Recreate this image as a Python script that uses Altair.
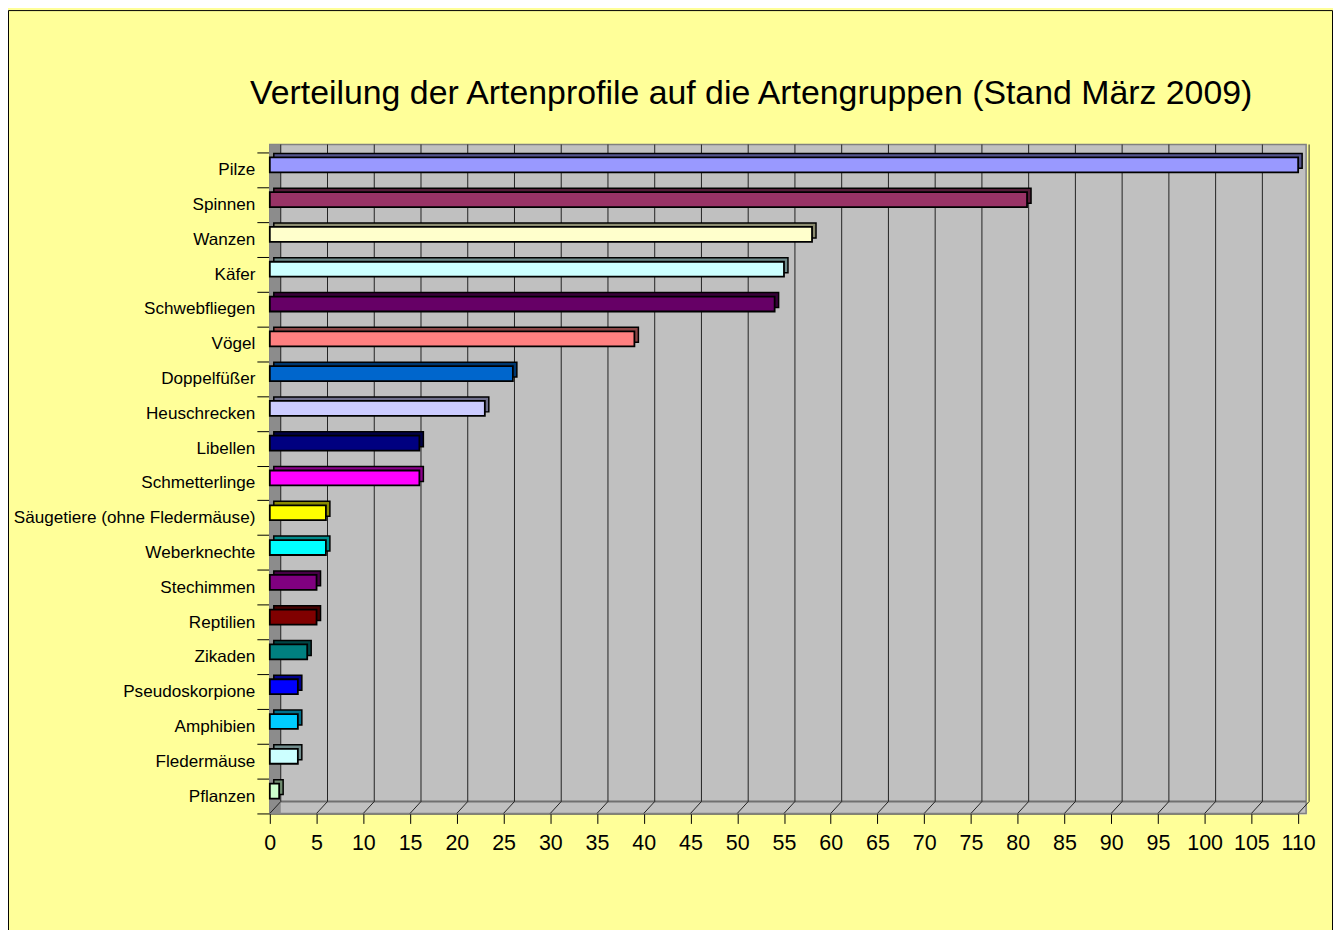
import altair as alt
import pandas as pd

CATEGORIES = ["Pilze", "Spinnen", "Wanzen", "Käfer", "Schwebfliegen", "Vögel",
              "Doppelfüßer", "Heuschrecken", "Libellen", "Schmetterlinge",
              "Säugetiere (ohne Fledermäuse)", "Weberknechte", "Stechimmen",
              "Reptilien", "Zikaden", "Pseudoskorpione", "Amphibien",
              "Fledermäuse", "Pflanzen"]
VALUES = [110, 81, 58, 55, 54, 39, 26, 23, 16, 16, 6, 6, 5, 5, 4, 3, 3, 3, 1]
COLORS = ["#9999FF", "#993366", "#FFFFCC", "#CCFFFF", "#660066", "#FF8080",
          "#0066CC", "#CCCCFF", "#000080", "#FF00FF", "#FFFF00", "#00FFFF",
          "#800080", "#800000", "#008080", "#0000FF", "#00CCFF", "#CCFFFF",
          "#CCFFCC"]
X_TICKS = list(range(0, 115, 5))
TITLE = "Verteilung der Artenprofile auf die Artengruppen (Stand März 2009)"


def shade(c, f=0.55):
    r, g, b = int(c[1:3], 16), int(c[3:5], 16), int(c[5:7], 16)
    return "#%02x%02x%02x" % (int(r * f), int(g * f), int(b * f))


DARK = [shade(c) for c in COLORS]

W, H = 1041, 672
FONT = "Liberation Sans"

df = pd.DataFrame({"cat": CATEGORIES, "value": VALUES})
ticks = pd.DataFrame({"v": X_TICKS})

xscale = alt.Scale(domain=[0, 110], range=[0, 1033], nice=False, zero=True)
yscale = alt.Scale(domain=CATEGORIES, range=[8, 672], paddingInner=0, paddingOuter=0)

xaxis = alt.Axis(values=X_TICKS, title=None, grid=False, labelFontSize=21.5, labelFont=FONT,
                 labelColor="black", tickSize=10, tickColor="black", domainColor="black",
                 labelPadding=9, labelOverlap=False, labelFlush=False)
yaxis = alt.Axis(title=None, grid=False, labelFontSize=17.2, labelFont=FONT, labelColor="black",
                 tickSize=13, tickColor="black", domainColor="black", labelPadding=2,
                 tickBand="extent", labelLimit=400)

one = alt.Data(values=[{}])

back_wall = alt.Chart(one).mark_rect(fill="#C0C0C0", stroke="#808080", strokeWidth=1.5).encode(
    x=alt.value(0), x2=alt.value(W), y=alt.value(0), y2=alt.value(H))

left_wall = alt.Chart(one).mark_rect(fill="#8C8C8C").encode(
    x=alt.value(0), x2=alt.value(11), y=alt.value(0), y2=alt.value(H))

floor_edge = alt.Chart(one).mark_rule(color="#707070", strokeWidth=2).encode(
    x=alt.value(11), x2=alt.value(W), y=alt.value(660))

grid = alt.Chart(ticks).mark_rule(color="#222222", strokeWidth=1, xOffset=11).encode(
    x=alt.X("v:Q", scale=xscale, axis=xaxis, title=None),
    y=alt.value(0), y2=alt.value(660))

diag = alt.Chart(ticks).mark_rule(color="#222222", strokeWidth=1, xOffset=0, x2Offset=11).encode(
    x=alt.X("v:Q", scale=xscale, axis=xaxis, title=None),
    x2=alt.X2("v"),
    y=alt.value(H), y2=alt.value(660))

depth = alt.Chart(df).mark_bar(height=15, xOffset=4, x2Offset=4, yOffset=-9,
                               stroke="black", strokeWidth=1.5).encode(
    x=alt.X("value:Q", scale=xscale, axis=xaxis, title=None),
    y=alt.Y("cat:N", scale=yscale, axis=yaxis, sort=CATEGORIES, title=None),
    color=alt.Color("cat:N", scale=alt.Scale(domain=CATEGORIES, range=DARK), legend=None))

front = alt.Chart(df).mark_bar(height=15, yOffset=-5, stroke="black", strokeWidth=1.8).encode(
    x=alt.X("value:Q", scale=xscale, axis=xaxis, title=None),
    y=alt.Y("cat:N", scale=yscale, axis=yaxis, sort=CATEGORIES, title=None),
    fill=alt.Fill("cat:N", scale=alt.Scale(domain=CATEGORIES, range=COLORS), legend=None))

title = alt.Chart(one).mark_text(text=TITLE, fontSize=34, font=FONT, color="black",
                                 align="center", baseline="alphabetic").encode(
    x=alt.value(483.5), y=alt.value(-41))

frame = alt.Chart(one).mark_rect(fill="transparent", stroke="black", strokeWidth=1).encode(
    x=alt.value(-262.5), x2=alt.value(W + 26.5), y=alt.value(-134.5), y2=alt.value(H + 140))

chart = alt.layer(back_wall, left_wall, floor_edge, grid, diag, depth, front, title, frame).resolve_scale(
    color="independent"
).properties(
    width=W, height=H,
    padding={"left": 263, "top": 135, "right": 27, "bottom": 120},
    autosize=alt.AutoSizeParams(type="none"),
    background="#FFFF99",
).configure_view(stroke=None).configure(font=FONT)

chart.save("out.html", embed_options={"renderer": "svg", "actions": False})
